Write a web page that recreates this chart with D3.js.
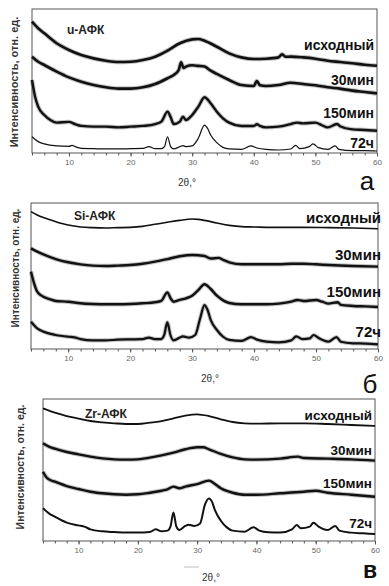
<!DOCTYPE html>
<html><head><meta charset="utf-8">
<script src="https://cdn.jsdelivr.net/npm/d3@7/dist/d3.min.js"></script>
<style>
html,body{margin:0;padding:0;background:#fff;}
svg{display:block;font-family:"Liberation Sans",Arial,sans-serif;}
</style></head><body>
<svg id="chart" width="389" height="586"></svg>
<script>
// ---- DATA (2θ, relative intensity incl. stacking offset, 0..100 of panel height) ----
const xTicks = [10, 20, 30, 40, 50, 60];
const seriesNames = ["исходный", "30мин", "150мин", "72ч"];
const panelTitles = ["u-АФК", "Si-АФК", "Zr-АФК"];
const panelLetters = ["а", "б", "в"];

// panel а : u-АФК
const uInitial = [[4,91.2],[5,86.6],[6,83.1],[8,76.2],[10,71.5],[12,68],[14,65.7],[16,64.1],[18,63.2],[20,63.4],[22,64.6],[24,66.9],[26,71.1],[28,76.2],[30,78.9],[31,79.2],[32,78],[34,73.8],[36,69.2],[38,66.4],[40,65.3],[42,65.5],[44,66.4],[44.6,68.5],[45.2,66.8],[46,66.9],[48,66.4],[50,65.5],[52,64.1],[54,63.2],[56,62.3],[58,61.3],[60,60.6]];
const u30 = [[4,66.9],[5,63.4],[6,61.1],[8,56.5],[10,52.5],[12,49.5],[14,47.2],[16,45.6],[18,44.7],[20,44.7],[22,45.6],[24,47.9],[26,51.9],[27,54.2],[27.8,57.5],[28.2,63],[28.6,59],[29,60],[30,60.9],[31,60.5],[32,60],[33,57.2],[34,54.9],[36,50.7],[38,47.2],[40,46.5],[40.5,50],[41,47],[42,46.5],[44,47.2],[46,48.8],[48,47.9],[50,47],[52,45.6],[54,44.7],[56,43.3],[58,42.4],[60,41.4]];
const u150 = [[4,50.7],[4.5,39.1],[5,32.2],[6,26.4],[7,22.9],[8,21.1],[10,21.6],[11,20],[12,18.8],[14,18.3],[16,18.3],[18,17.8],[20,18.3],[22,18.8],[24,20.1],[25,21.8],[26,28.7],[26.5,25],[27,20.1],[28,21.8],[28.5,25.2],[29,22.9],[30,26.4],[31,32.2],[32,38.7],[33,34.5],[34,28.7],[35,24.1],[36,21.1],[38,18.8],[40,18.8],[40.5,20],[41,18.8],[42,17.8],[44,18.3],[46,20.1],[47,21.1],[48,20.6],[50,21.1],[51,19.4],[52,17.8],[53.5,20.1],[54,18.6],[56,16.4],[58,16],[60,15.5]];
const u72 = [[4,11.3],[5,7.9],[6,6.3],[8,4.9],[10,4.6],[10.5,5.3],[11,4.4],[12,3.2],[14,3],[16,2.8],[18,2.8],[20,3],[22,3.2],[23,4.4],[24,3],[25,3],[25.5,4.4],[26,11.3],[26.5,4.4],[27,2.8],[28,4.4],[28.5,5.1],[29,4.4],[30,4.9],[31,10.2],[32,19.4],[32.5,17.1],[33,12.5],[34,7.2],[35,3.9],[36,2.8],[38,2.5],[39.5,4.9],[40.5,3.5],[42,2.5],[44,2.1],[46,2.8],[46.8,5.3],[47.5,3],[49,4.4],[49.6,6.3],[50.5,3.7],[52,2.5],[53.2,4.9],[53.8,2.5],[56,1.6],[58,1.6],[60,1.4]];

// panel б : Si-АФК
const siInitial = [[4,94.1],[5,91.8],[6,90],[8,87.2],[10,84.9],[12,83.6],[14,83.1],[16,82.9],[18,83.1],[20,83.3],[22,84],[24,85.4],[26,86.8],[28,88.1],[30,89],[31,88.8],[32,88.1],[34,86.3],[36,84.7],[38,83.8],[40,83.6],[44,83.3],[48,83.3],[52,83.1],[56,82.9],[60,82.4]];
const si30 = [[4,68.9],[5,66.7],[6,64.8],[8,61.6],[10,59.4],[12,58],[14,57.1],[16,56.8],[18,57.1],[20,57.5],[22,58.4],[24,59.8],[26,61.6],[28,63.5],[30,64.4],[32,63.7],[33,62],[34.3,62.4],[35,61],[36,59.4],[38,58],[40,58],[42,58],[44,58],[46,58.4],[48,58.4],[50,58],[52,57.5],[56,56.8],[60,56.4]];
const si150 = [[4,53],[4.5,45],[5,39.3],[6,35.8],[7,34.2],[8,32.9],[10,32.4],[12,31.3],[14,30.8],[16,30.6],[18,30.6],[20,30.8],[22,31.3],[24,32],[25,32.9],[26,38.8],[26.6,34.2],[27,32.4],[28,33.6],[29,34.7],[30,36.5],[31,40.4],[32,44.3],[33,41.1],[34,36.5],[35,33.3],[36,31.5],[38,30.6],[40,30.6],[42,30.6],[44,31.1],[46,32.4],[47,33.6],[48,32.9],[50,33.6],[51,32.4],[52,31.1],[53.5,32],[54,30.2],[56,29.5],[58,29.2],[60,28.8]];
const si72 = [[4,18.7],[5,14.2],[6,11.9],[8,9.6],[10,8.4],[11,8],[12,6.8],[14,5.9],[16,5.9],[18,6.4],[20,6.6],[22,6.8],[23,7.8],[24,6.8],[25,6.8],[25.5,9.6],[26,18.3],[26.5,9.6],[27,5.9],[28,7.8],[28.5,8.7],[29.5,7.8],[30.5,9.6],[31.3,21],[32,30.1],[32.5,26.7],[33,19.9],[34,13],[35,8.4],[36,6.2],[38,5.5],[39.5,8.2],[40.5,6.4],[42,5],[44,4.6],[46,5.9],[46.8,8.7],[47.8,6.8],[49,7.3],[49.6,9.6],[50.5,7.3],[52,5],[53.3,8.2],[54,5],[56,3.9],[58,3.7],[60,3.2]];

// panel в : Zr-АФК
const zrInitial = [[4,93.4],[5,91.8],[6,90.4],[8,88],[10,86.2],[12,84.5],[14,83.6],[16,82.9],[18,82.4],[20,82.4],[22,83.3],[24,84.5],[26,86.4],[28,88.3],[30,89.2],[32,88],[34,85.7],[36,83.8],[38,82.9],[40,82.6],[44,82.9],[48,82.9],[52,82.4],[56,81.7],[60,81]];
const zr30 = [[4,68.8],[5,66.4],[6,65],[8,62.7],[10,61],[12,59.4],[14,58.2],[16,57.5],[18,57.3],[20,57.5],[22,58.7],[24,60.3],[26,62.2],[28,64.6],[30,66],[31,66],[32,64.6],[34,61.3],[36,58.9],[38,57.5],[40,57.3],[44,58],[47,59.4],[48,58.4],[52,58],[56,57.5],[60,56.6]];
const zr150 = [[4,48.8],[4.5,45.3],[5,43.4],[6,41.8],[8,38.7],[10,36.6],[12,34.7],[14,33.6],[16,32.9],[18,32.6],[20,32.9],[22,34],[24,35.4],[25,36.4],[26,38.3],[27,37.1],[28,38.3],[30,40.1],[32,42.5],[33,40.1],[34,37.1],[36,34],[38,32.6],[40,32.6],[44,33.6],[48,34.7],[50,35.4],[52,34],[56,32.6],[60,31.2]];
const zr72 = [[4,23],[5,19.5],[6,17.1],[8,12.9],[10,11],[11,10.1],[12,8.2],[14,6.8],[16,6.3],[18,5.9],[20,5.9],[22,6.3],[23,8.2],[24,6.8],[25,7.3],[25.5,10.1],[26,20],[26.5,10.1],[27,7.7],[28,10.6],[28.5,11.5],[29.5,10.6],[30.5,12.4],[31.3,25.4],[32,30],[32.5,27.7],[33,21.8],[34,14.3],[35,9.6],[36,7.3],[38,6.6],[39.5,9.6],[40.5,7.3],[42,6.1],[44,5.9],[46,8.2],[46.8,11.3],[47.5,8.9],[49,10.1],[49.6,12.9],[50.5,10.1],[52,7.7],[53.3,10.6],[54,7.3],[56,5.9],[58,5.4],[60,4.9]];

const panelSeries = [
  [uInitial, u30, u150, u72],
  [siInitial, si30, si150, si72],
  [zrInitial, zr30, zr150, zr72]
];

// ---- LAYOUT ----
const layouts = [
  {left:32, right:377, top:9, bottom:153, titleX:67, titleY:34, letterX:367, letterY:190, letterSize:26,
   xlabX:187, xlabY:186, ylabX:15, ylabY:82, ylabSize:11, labelRight:374, labelSize:14,
   labelY:[50,85,118,148], widths:[2.6,2.6,2.4,1.2], halo:[1,1,1,0]},
  {left:31, right:378, top:203, bottom:349, titleX:74, titleY:220, letterX:370, letterY:393, letterSize:26,
   xlabX:210, xlabY:382, ylabX:16, ylabY:268, ylabSize:10, labelRight:381, labelSize:15,
   labelY:[223,260,297,337], widths:[1.6,2.4,2.4,2.2], halo:[0,1,1,1]},
  {left:43, right:375, top:399, bottom:541, titleX:85, titleY:418, letterX:370, letterY:578, letterSize:23,
   xlabX:211, xlabY:581, ylabX:21, ylabY:467, ylabSize:10.5, labelRight:372, labelSize:13.5,
   labelY:[420,455,488,528], widths:[1.8,2.4,2.4,2], halo:[0,1,1,0]}
];

const svg = d3.select("#chart");

layouts.forEach((L, pi) => {
  const x = d3.scaleLinear().domain([4, 60]).range([L.left, L.right]);
  const y = d3.scaleLinear().domain([0, 100]).range([L.bottom, L.top]);
  const g = svg.append("g");

  // frame
  g.append("rect").attr("x", L.left).attr("y", L.top)
    .attr("width", L.right - L.left).attr("height", L.bottom - L.top)
    .attr("fill", "none").attr("stroke", "#555").attr("stroke-width", 1);

  // minor ticks
  const minor = d3.range(4, 61, 2);
  g.append("g").attr("transform", `translate(0,${L.bottom})`)
    .call(d3.axisBottom(x).tickValues(minor).tickSize(2.5).tickFormat(""))
    .call(a => a.select(".domain").remove())
    .call(a => a.selectAll("line").attr("stroke", "#555"));
  // major labels
  g.append("g").attr("transform", `translate(0,${L.bottom})`)
    .call(d3.axisBottom(x).tickValues(xTicks).tickSize(3.5).tickPadding(3))
    .call(a => a.select(".domain").remove())
    .call(a => a.selectAll("line").attr("stroke", "#555"))
    .call(a => a.selectAll("text").attr("font-size", 8).attr("fill", "#666")
      .attr("font-family", '"Liberation Sans",Arial,sans-serif'));

  // curves
  const line = d3.line().x(d => x(d[0])).y(d => y(d[1])).curve(d3.curveMonotoneX);
  panelSeries[pi].forEach((s, si) => {
    if (L.halo[si]) {
      g.append("path").datum(s).attr("d", line)
        .attr("fill", "none").attr("stroke", "#777").attr("stroke-opacity", 0.45)
        .attr("stroke-width", L.widths[si] + 2).attr("stroke-linejoin", "round");
    }
    g.append("path").datum(s).attr("d", line)
      .attr("fill", "none").attr("stroke", "#111")
      .attr("stroke-width", L.widths[si]).attr("stroke-linejoin", "round");
  });

  // series labels
  seriesNames.forEach((n, si) => {
    g.append("text").attr("x", L.labelRight).attr("y", L.labelY[si])
      .attr("text-anchor", "end").attr("font-weight", "bold")
      .attr("font-size", L.labelSize).attr("fill", "#111").text(n);
  });

  // panel title
  g.append("text").attr("x", L.titleX).attr("y", L.titleY)
    .attr("font-weight", "bold").attr("font-size", 12).attr("fill", "#222").text(panelTitles[pi]);

  // x label
  g.append("text").attr("x", L.xlabX).attr("y", L.xlabY).attr("text-anchor", "middle")
    .attr("font-size", 10).attr("fill", "#333").text("2θ,°");

  // y label
  g.append("text").attr("transform", `translate(${L.ylabX},${L.ylabY}) rotate(-90)`)
    .attr("text-anchor", "middle").attr("dominant-baseline", "middle")
    .attr("font-weight", "bold").attr("font-size", L.ylabSize).attr("fill", "#333")
    .text("Интенсивность, отн. ед.");

  // panel letter
  g.append("text").attr("x", L.letterX).attr("y", L.letterY).attr("text-anchor", "middle")
    .attr("font-size", L.letterSize).attr("fill", "#111")
    .attr("font-weight", pi === 2 ? "bold" : "normal").text(panelLetters[pi]);
});

// faint dash left of the x label in panel в
svg.append("line").attr("x1", 184).attr("x2", 199).attr("y1", 567).attr("y2", 567)
  .attr("stroke", "#bbb").attr("stroke-width", 1);
</script>
</body></html>
